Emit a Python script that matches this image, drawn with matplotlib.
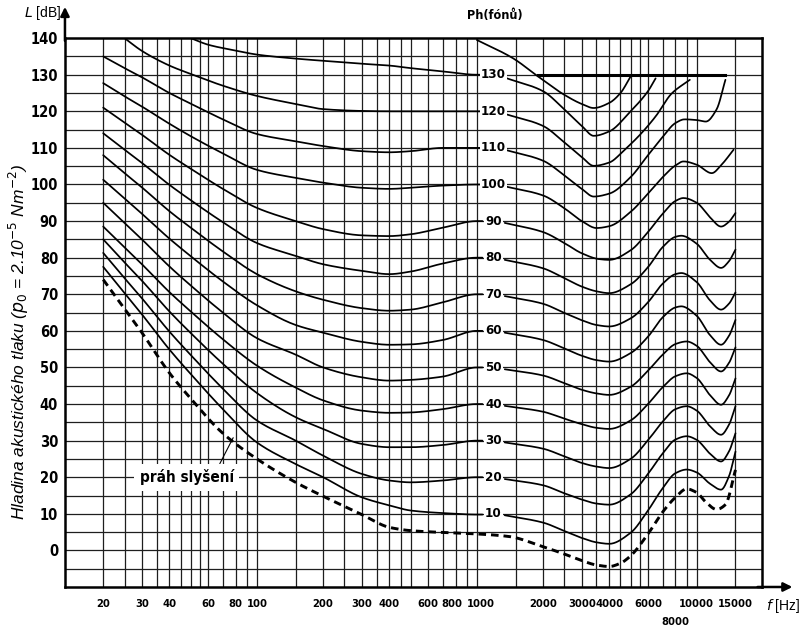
import numpy as np
import matplotlib.pyplot as plt
import matplotlib.patheffects as pe
import matplotlib.transforms as mtransforms
from matplotlib import font_manager
from matplotlib.font_manager import FontProperties

# --- data (frequency in Hz, level in dB) ---
# left part of the curves, up to the phon labels at ~1 kHz
f_left = [20, 25, 30, 40, 50, 70, 100, 150, 200, 300, 400, 500, 700, 1000, 1060]
left_10 = [77.5, 70.3, 64.5, 54.9, 48.2, 38.6, 29.5, 23.6, 20.0, 14.5, 12.3, 10.9, 10.2, 9.8, 9.8]
left_20 = [81.3, 74.4, 68.9, 59.8, 53.4, 44.2, 35.5, 30.0, 25.9, 20.9, 19.1, 18.6, 19.1, 20.0, 20.0]
left_30 = [85, 78.7, 73.7, 65.3, 59.4, 51, 43, 36.4, 33.2, 29.1, 28.2, 28.2, 28.8, 30, 30]
left_40 = [88.5, 82.8, 78.2, 70.6, 65.3, 57.7, 50.5, 44.5, 41.0, 38.2, 37.6, 37.7, 38.6, 40, 40]
left_50 = [95, 89.5, 85, 77.6, 72.4, 65, 58, 53.5, 50, 47.3, 46.4, 46.6, 47.5, 50, 50]
left_60 = [101.3, 96.2, 92, 85.2, 80.4, 73.5, 67, 61.6, 59.5, 57, 56.2, 56.3, 57.5, 60, 60]
left_70 = [108, 103.1, 99.2, 92.7, 88.2, 81.7, 75.5, 70.8, 68.5, 66.2, 65.5, 65.8, 67.8, 70, 70]
left_80 = [114, 109.5, 105.9, 99.9, 95.7, 89.7, 84, 80.5, 78.2, 76.4, 75.5, 76.2, 78.4, 80, 80]
left_90 = [121, 116.9, 113.6, 108.1, 104.3, 98.8, 93.6, 90, 87.8, 86.1, 85.9, 86.4, 88.2, 90, 90]
left_100 = [127.7, 124.1, 121.3, 116.6, 113.2, 108.5, 104, 101.8, 100.5, 99.1, 98.8, 99.1, 99.7, 100, 100]
left_110 = [135, 131.8, 129.3, 125, 122.1, 117.8, 113.8, 111.8, 110.5, 109.1, 108.8, 109.1, 110, 110, 110]
f_left_120 = [25, 30, 40, 50, 70, 100, 150, 200, 300, 400, 500, 700, 1000, 1060]
left_120 = [140, 136.5, 132.5, 130.2, 127, 124.2, 122, 120.6, 120.1, 120, 120, 120, 120, 120]
f_left_130 = [50, 60, 80, 100, 150, 200, 300, 400, 500, 700, 1000, 1060]
left_130 = [140, 138.2, 136.6, 135.5, 134.4, 133.8, 133, 132.5, 131.8, 130.9, 130, 130]

# right part of the curves, after the phon labels
f_right = [1340, 2000, 2500, 3000, 3500, 4000, 5000, 6000, 7000, 8000, 9000, 10000, 11500, 12900, 14000, 15000]
right_10 = [9.6, 7.6, 5.3, 3.4, 2.2, 1.8, 4.8, 10.9, 17.0, 21.1, 22.1, 21.3, 18.2, 16.6, 20.2, 27]
right_20 = [19.5, 17.8, 15.6, 13.9, 12.8, 12.5, 15.3, 20.9, 26.5, 30.3, 31.2, 30.2, 26.4, 24.3, 27.0, 32]
right_30 = [29.5, 27.8, 25.7, 23.9, 22.9, 22.5, 25.0, 30.1, 35.2, 38.6, 39.4, 38.2, 33.9, 31.6, 34.3, 39.4]
right_40 = [39.5, 37.9, 36.0, 34.5, 33.5, 33.2, 35.5, 40.0, 44.6, 47.6, 48.4, 47.1, 42.4, 39.8, 42.3, 47]
right_50 = [49.5, 47.8, 45.7, 43.9, 42.9, 42.5, 44.7, 49.1, 53.5, 56.4, 57.1, 55.9, 51.4, 48.9, 51.2, 55.5]
f_right_b = [1340, 2000, 2500, 3000, 3500, 4000, 5000, 6000, 7000, 8000, 8500, 10000, 11500, 12900, 14000, 15000]
right_60 = [59.5, 57.5, 55.2, 53.2, 52.0, 51.6, 53.9, 58.4, 63.7, 66.4, 66.7, 64.1, 58.8, 56.2, 58.6, 63]
right_70 = [69.5, 67.4, 64.9, 62.9, 61.6, 61.2, 63.4, 67.8, 72.9, 75.5, 75.8, 73.3, 68.3, 65.8, 67.4, 70.5]
right_80 = [79.4, 77.1, 74.4, 72.1, 70.8, 70.3, 72.7, 77.4, 82.9, 85.7, 86, 83.8, 79.4, 77.2, 79.0, 82.2]
f_right_90 = [1340, 2000, 2500, 3000, 3600, 4000, 5000, 6000, 7000, 8000, 8700, 10000, 11500, 12900, 14000, 15000]
right_90 = [89.5, 87, 84, 81.2, 79.6, 79.4, 82, 87, 92, 95.5, 96.3, 95, 91, 88.5, 89.8, 92.2]
f_right_100 = [1340, 2000, 2500, 3000, 3500, 4000, 5000, 6000, 7000, 8000, 8700, 10000, 11700, 13000, 14700]
right_100 = [99.5, 97, 93.5, 90, 88.1, 88.6, 92.5, 97.5, 102, 105.2, 106.3, 105.4, 103.1, 105.5, 109.5]
f_right_110 = [1340, 2000, 2500, 3000, 3400, 4000, 5000, 6000, 7000, 8000, 8800, 10000, 11000, 12300, 13500]
right_110 = [109.5, 106.5, 102.5, 98.8, 96.7, 97.5, 102, 108, 113, 116.8, 117.8, 117.6, 117.2, 120.5, 128.6]
f_right_120 = [1340, 2000, 2500, 3000, 3400, 4000, 4700, 5500, 6500, 7700, 9300]
right_120 = [119.3, 116, 111.5, 107.5, 105.1, 106, 109.5, 113.5, 118.6, 124.9, 128.6]
f_right_130 = [1340, 2000, 2500, 3000, 3400, 4000, 5000, 6000, 6500]
right_130 = [129.2, 125.5, 120.5, 116, 113.3, 114.5, 120, 125.5, 129]
f_right_140 = [1000, 1460, 1900, 2500, 3000, 3400, 4000, 4500, 5000]
right_140 = [139.5, 134.5, 129.5, 124.5, 122, 120.9, 122.3, 125, 129.5]

# threshold of hearing (dashed)
thr_f = [20, 25, 30, 40, 50, 70, 100, 150, 200, 300, 400, 500, 700, 1000, 1400, 2000, 2500,
         3000, 3500, 4000, 4500, 5000, 6000, 7000, 8000, 9000, 10000, 11000, 12300, 13500, 15000]
thr_db = [74, 66, 59.5, 48.5, 41.5, 32, 25, 18.6, 14.8, 9.8, 6.3, 5.4, 4.9, 4.5, 3.8, 1.0, -1.0,
          -2.8, -4.0, -4.4, -3.5, -1.5, 4.5, 10.5, 14.5, 16.8, 15.8, 13.2, 11.2, 12.5, 22]

phon_levels = [10, 20, 30, 40, 50, 60, 70, 80, 90, 100, 110, 120, 130]
y_ticks = list(range(0, 141, 10))
x_ticks = [20, 30, 40, 60, 80, 100, 200, 300, 400, 600, 800, 1000, 2000, 3000, 4000, 6000, 10000, 15000]
x_ticklabels = ['20', '30', '40', '60', '80', '100', '200', '300', '400', '600', '800', '1000',
                '2000', '3000', '4000', '6000', '10000', '15000']
grid_f = [20, 25, 30, 35, 40, 45, 50, 55, 60, 70, 80, 90, 100, 150, 200, 250, 300, 350, 400, 450,
          500, 600, 700, 800, 900, 1000, 1500, 2000, 2500, 3000, 3500, 4000, 4500, 5000, 5500,
          6000, 7000, 8000, 9000, 10000, 15000]


def smooth(f, db, n=200):
    # monotone cubic through the read points, in log-frequency
    x = np.log10(np.asarray(f, float))
    y = np.asarray(db, float)
    h = np.diff(x)
    d = np.diff(y) / h
    m = np.zeros_like(y)
    m[0], m[-1] = d[0], d[-1]
    for k in range(1, len(x) - 1):
        if d[k - 1] * d[k] > 0:
            w1 = 2 * h[k] + h[k - 1]
            w2 = h[k] + 2 * h[k - 1]
            m[k] = (w1 + w2) / (w1 / d[k - 1] + w2 / d[k])
    xn = np.linspace(x[0], x[-1], n)
    i = np.clip(np.searchsorted(x, xn) - 1, 0, len(h) - 1)
    t = (xn - x[i]) / h[i]
    yn = ((2 * t**3 - 3 * t**2 + 1) * y[i] + (t**3 - 2 * t**2 + t) * h[i] * m[i]
          + (-2 * t**3 + 3 * t**2) * y[i + 1] + (t**3 - t**2) * h[i] * m[i + 1])
    return 10 ** xn, yn


# a narrow bold face for the numbers, if the system has one
fonts = font_manager.fontManager.ttflist
names = {fe.name for fe in fonts}
plain = 'Liberation Sans' if 'Liberation Sans' in names else 'DejaVu Sans'
narrow = None
for fe in fonts:
    key = (fe.fname + ' ' + fe.name).lower()
    if 'italic' in key or 'oblique' in key:
        continue
    if 'narrow' in key or 'condensed' in key or str(fe.stretch) in ('condensed', 'semi-condensed'):
        score = 2 if ('bold' in key or str(fe.weight) in ('700', 'bold')) else 1
        if narrow is None or score > narrow[0]:
            narrow = (score, fe.fname)


def numfont(size):
    if narrow:
        return FontProperties(fname=narrow[1], size=size)
    return FontProperties(family=plain, weight='bold', size=size)


embolden = [pe.withStroke(linewidth=0.5, foreground='black')] if (narrow and narrow[0] == 1) else []

fig = plt.figure(figsize=(8, 6.28), dpi=100)
ax = fig.add_axes([0.0812, 0.0653, 0.871, 0.874])
ax.set_xscale('log')
ax.set_xlim(13.4, 19750)
ax.set_ylim(-10, 140)

for f in grid_f:
    ax.axvline(f, color='#1e1e1e', lw=0.9, zorder=1)
for y in range(-5, 140, 5):
    ax.axhline(y, color='#1e1e1e', lw=0.9, zorder=1)

for s in ax.spines.values():
    s.set_linewidth(1.8)
    s.set_zorder(5)

line_kw = dict(color='black', lw=1.25, zorder=3, solid_capstyle='round')
left_parts = [(f_left, left_10), (f_left, left_20), (f_left, left_30), (f_left, left_40),
              (f_left, left_50), (f_left, left_60), (f_left, left_70), (f_left, left_80),
              (f_left, left_90), (f_left, left_100), (f_left, left_110),
              (f_left_120, left_120), (f_left_130, left_130)]
right_parts = [(f_right, right_10), (f_right, right_20), (f_right, right_30), (f_right, right_40),
               (f_right, right_50), (f_right_b, right_60), (f_right_b, right_70),
               (f_right_b, right_80), (f_right_90, right_90), (f_right_100, right_100),
               (f_right_110, right_110), (f_right_120, right_120), (f_right_130, right_130),
               (f_right_140, right_140)]
for f, db in left_parts + right_parts:
    ax.plot(*smooth(f, db), **line_kw)

ax.plot(*smooth(thr_f, thr_db, 400), color='black', lw=2.1, ls=(0, (2.6, 1.7)), zorder=3)

# heavy 130 dB line on the right
ax.plot([1900, 13500], [130, 130], color='black', lw=2.2, zorder=3)

for p in phon_levels:
    ax.text(1190, p, str(p), ha='center', va='center', fontproperties=numfont(9.5),
            zorder=4, path_effects=embolden,
            bbox=dict(fc='white', ec='none', pad=0.6))

ax.set_xticks(x_ticks)
ax.set_xticklabels(x_ticklabels)
ax.xaxis.set_minor_locator(plt.NullLocator())
ax.set_yticks(y_ticks)
ax.tick_params(length=0)
ax.tick_params(axis='x', pad=9)
ax.tick_params(axis='y', pad=5)
for lab in ax.get_xticklabels():
    lab.set_fontproperties(numfont(8))
    lab.set_path_effects(embolden)
for lab in ax.get_yticklabels():
    lab.set_fontproperties(numfont(10.5))
    lab.set_path_effects(embolden)

# nudge the crowded 800 / 1000 pair apart, as in the original
for tick in ax.xaxis.get_major_ticks():
    lab = tick.label1
    if lab.get_text() == '800':
        lab.set_transform(lab.get_transform() + mtransforms.ScaledTranslation(-2.5 / 72, 0, fig.dpi_scale_trans))
    elif lab.get_text() == '1000':
        lab.set_transform(lab.get_transform() + mtransforms.ScaledTranslation(2.5 / 72, 0, fig.dpi_scale_trans))

ax.text(8000, -19.6, '8000', ha='center', va='center', fontproperties=numfont(8),
        path_effects=embolden, clip_on=False)

# axis arrows and titles
ax.annotate('', xy=(0, 1.062), xytext=(0, 0.99), xycoords='axes fraction',
            arrowprops=dict(arrowstyle='-|>', lw=1.8, color='black', mutation_scale=13))
ax.annotate('', xy=(1.048, 0), xytext=(0.99, 0), xycoords='axes fraction',
            arrowprops=dict(arrowstyle='-|>', lw=1.8, color='black', mutation_scale=13))
ax.text(-0.006, 1.045, '$L$ [dB]', transform=ax.transAxes, ha='right', va='center',
        fontsize=10, family=plain)
ax.text(1.03, -0.034, '$f$ [Hz]', transform=ax.transAxes, ha='center', va='center',
        fontsize=10, family=plain)
ax.text(0.617, 1.042, 'Ph(fónů)', transform=ax.transAxes, ha='center', va='center',
        fontproperties=numfont(9), path_effects=embolden)
ax.text(-0.066, 0.446, 'Hladina akustického tlaku ($p_0$ = 2.10$^{-5}$ Nm$^{-2}$)',
        transform=ax.transAxes, rotation=90, ha='center', va='center',
        fontsize=12.5, style='italic', family=plain)

ax.annotate('práh slyšení', xy=(78, 30.8), xytext=(48, 20), ha='center', va='center',
            fontproperties=numfont(11), path_effects=embolden, zorder=4,
            bbox=dict(fc='white', ec='none', pad=4),
            arrowprops=dict(arrowstyle='-', lw=0.8, color='black',
                            shrinkA=0, shrinkB=0, relpos=(0.82, 1.0)))

fig.savefig('out.png', dpi=100)
